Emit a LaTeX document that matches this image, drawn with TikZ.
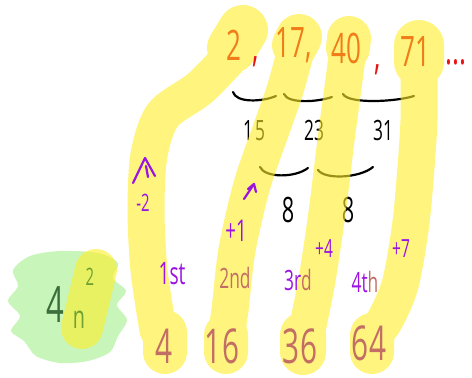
\documentclass[tikz,border=0pt]{standalone}
\usepackage{fontspec}
\setmainfont{Open Sans}[FakeStretch=0.62]
\usetikzlibrary{arrows.meta}

\definecolor{hlyellow}{RGB}{255,238,40}
\definecolor{hlgreen}{RGB}{163,238,138}
\definecolor{penpurple}{RGB}{155,20,225}
\definecolor{penorange}{RGB}{240,125,25}
\definecolor{penred}{RGB}{230,20,20}
\definecolor{penrose}{RGB}{195,110,100}
\definecolor{pendkgreen}{RGB}{60,110,60}
\definecolor{penolive}{RGB}{110,160,50}

\newcommand{\fsz}[1]{\fontsize{#1}{#1}\selectfont}

\begin{document}
\begin{tikzpicture}[x=1pt, y=-1pt, line cap=round, line join=round,
  pen/.style={line width=2.2pt},
  txt/.style={inner sep=0pt, font=\fsz{#1}},
  band/.style={draw=hlyellow, line width=37pt, line cap=round, line join=round},
  bulb/.style={draw=hlyellow, line width=#1, line cap=round}]

\useasboundingbox (0,0) rectangle (472,378);

% ----------------------------
% BLACK INK (under the highlighter)
% ----------------------------
% first differences
\draw[pen] (233,92) .. controls (236,103) and (262,102) .. (276,96);
\draw[pen] (284,94) .. controls (288,104) and (318,102) .. (332,97);
\draw[pen] (343,94) .. controls (348,104) and (395,102) .. (414,96);
\node[txt=28] (d15) at (254,131) {1\kern2pt 5};
\node[txt=28] (d23) at (314,130) {23};
\node[txt=28] (d31) at (383,130) {31};

% second differences
\draw[pen] (260,167) .. controls (265,178) and (295,178) .. (308,168);
\draw[pen] (318,170) .. controls (325,180) and (360,178) .. (373,167);
\node[txt=35] (s8a) at (288,210) {8};
\node[txt=35] (s8b) at (348,210) {8};

% ----------------------------
% GREEN PATCH
% ----------------------------
\fill[hlgreen, opacity=0.6] plot[smooth cycle] coordinates {
  (30,256) (60,251) (98,253) (118,263) (113,278) (126,291) (117,305)
  (127,320) (118,336) (110,352) (88,361) (60,363) (36,356) (24,341)
  (11,331) (20,316) (8,301) (18,286) (13,270)};

% ----------------------------
% YELLOW HIGHLIGHTER
% ----------------------------
\begin{scope}[transparency group, opacity=0.6]
  % 2 -> 4
  \draw[bulb=50pt] (243,30) -- (232,48);
  \draw[band] plot[smooth] coordinates {(232,55) (200,88) (163,115) (149,155) (146,210) (149,270) (158,330)};
  \draw[bulb=44pt] (165,332) -- (165,352);
  % 17 -> 16
  \draw[bulb=46pt] (299,37) -- (295,45);
  \draw[band] plot[smooth] coordinates {(296,50) (285,90) (271,130) (252,185) (237,250) (230,310) (226,335)};
  \draw[bulb=44pt] (226,335) -- (226,352);
  % 40 -> 36
  \draw[bulb=44pt] (349,38) -- (348,48);
  \draw[band] plot[smooth] coordinates {(348,50) (342,95) (336,140) (327,213) (317,280) (307,330)};
  \draw[bulb=46pt] (303,335) -- (303,352);
  % 71 -> 64
  \draw[bulb=50pt] (419,45) -- (419,62);
  \draw[band] plot[smooth] coordinates {(419,60) (419,120) (415,180) (410,230) (400,285) (385,320) (373,335)};
  \draw[bulb=44pt] (372,335) -- (372,352);
  % over n^2
  \draw[bulb=42pt] (96,270) -- (82,328);
\end{scope}

% ----------------------------
% SEQUENCE
% ----------------------------
\node[txt=42, text=penorange] (n2)  at (234,45) {2};
\node[txt=42, text=penorange] (n17) at (294,45) {17,};
\node[txt=42, text=penorange] (n40) at (346,48) {40};
\node[txt=42, text=penorange] (n71) at (415,52) {71};
\node[txt=42, text=penred] (c2)  at (256,62) {,};
\node[txt=42, text=penred] (c40) at (378,70) {,};
\node[txt=42, text=penred] (dots) at (456,62) {...};

% ----------------------------
% SQUARES
% ----------------------------
\node[txt=48, text=penrose] (b4)  at (164,346) {4};
\node[txt=48, text=penrose] (b16) at (222,346) {16};
\node[txt=48, text=penrose] (b36) at (300,346) {36};
\node[txt=48, text=penrose] (b64) at (369,343) {64};

% ----------------------------
% POSITIONS
% ----------------------------
\node[txt=31, text=penpurple] (l1st) at (172,274) {1st};
\node[txt=28, text=penrose]   (l2nd) at (235,278) {2nd};
\node[txt=28, text=penpurple] (l3rd) at (298,280) {3r\textcolor{penrose}{d}};
\node[txt=28, text=penpurple] (l4th) at (365,282) {4t\textcolor{penrose}{h}};

% ----------------------------
% ADJUSTMENTS
% ----------------------------
\draw[pen, penpurple] (133,183) -- (145,158) -- (155,176);
\draw[pen, penpurple] (146,166) -- (148,177);
\node[txt=24, text=penpurple] (am2) at (143,203) {-2};

\draw[pen, penpurple] (244,199) -- (254,184);
\draw[pen, penpurple] (248,189) -- (254,184) -- (256,192);
\node[txt=30, text=penpurple] (ap1) at (236,231) {+1};
\node[txt=25, text=penpurple] (ap4) at (324,249) {+4};
\node[txt=25, text=penpurple] (ap7) at (401,249) {+7};

% ----------------------------
% FORMULA
% ----------------------------
\node[txt=50, text=pendkgreen] (f4) at (55,305) {4};
\node[txt=32, text=penolive] (fn) at (79,320) {n};
\node[txt=24, text=penolive] (fsq) at (90,277) {2};

\end{tikzpicture}
\end{document}
